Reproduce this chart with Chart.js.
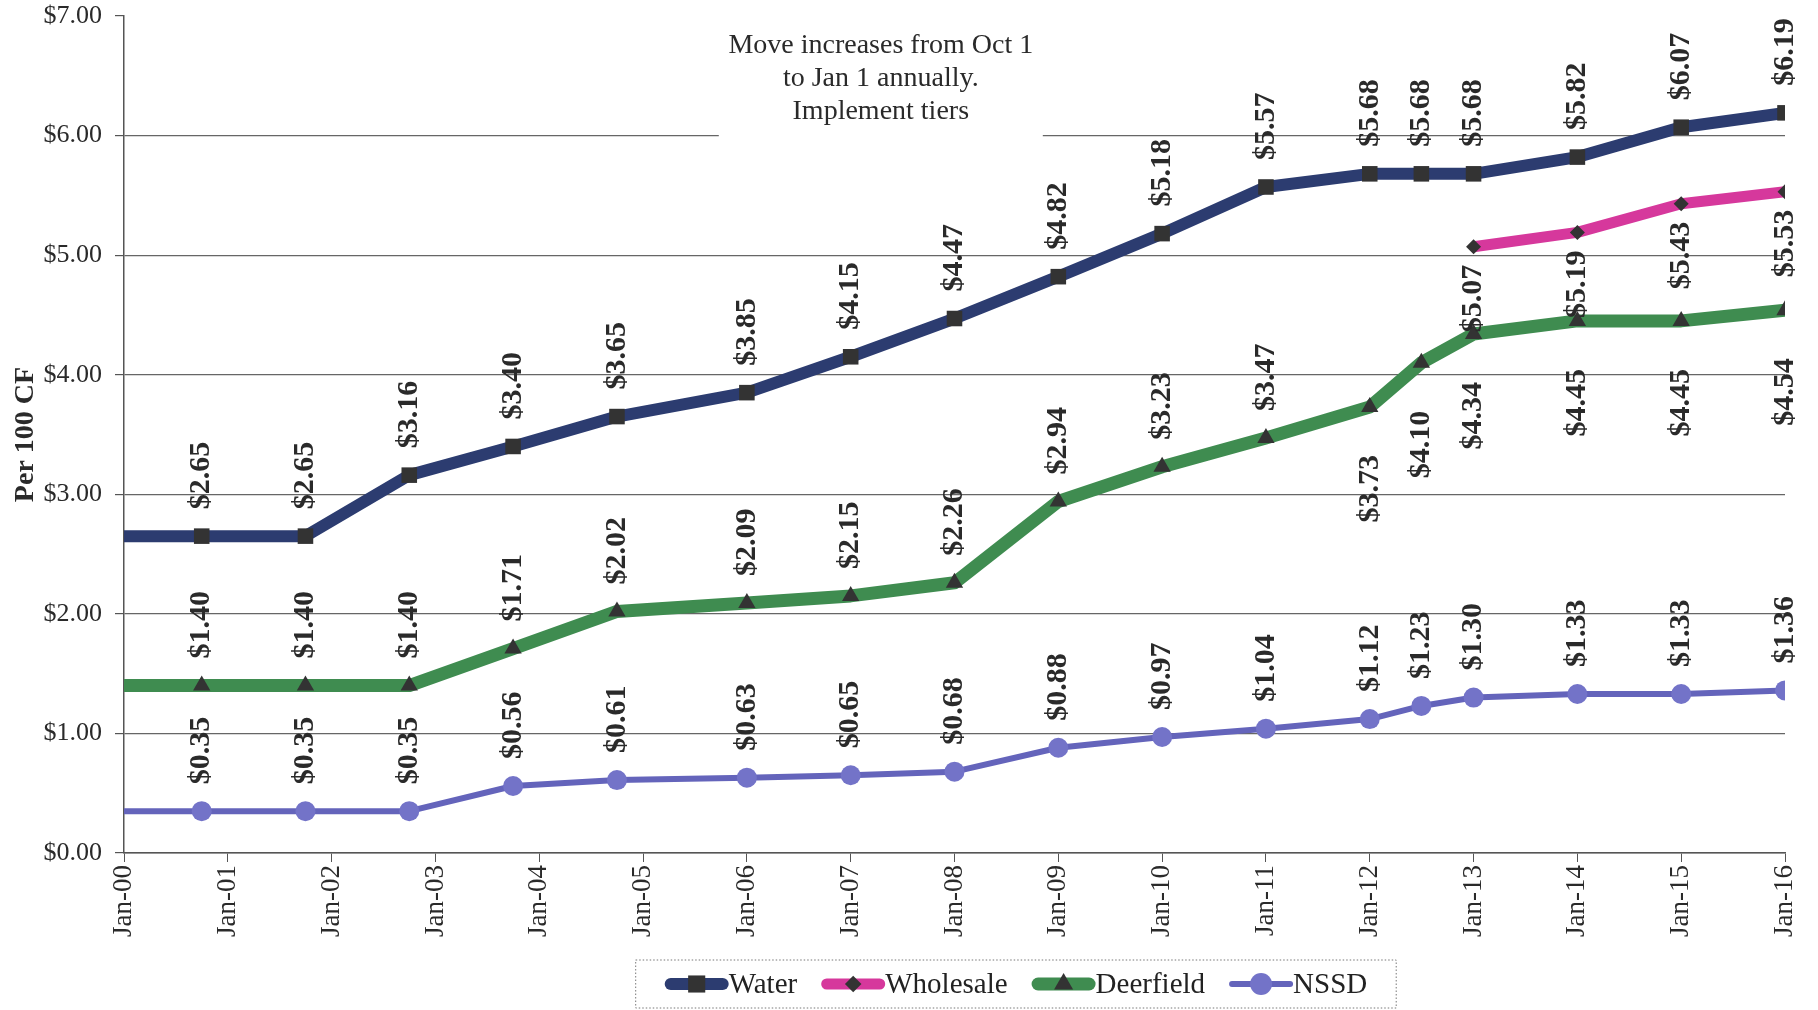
<!DOCTYPE html>
<html>
<head>
<meta charset="utf-8">
<script src="https://cdn.jsdelivr.net/npm/chart.js@4.4.1/dist/chart.umd.min.js"></script>
<style>
    html, body { margin: 0; padding: 0; background: #ffffff; }
    #wrap { width: 1818px; height: 1010px; position: relative; }
</style>
</head>
<body>
<div id="wrap"><canvas id="tarifas"></canvas></div>
<script>
// rate change dates (first entry is the axis start, no marker)
const rateDates = [
    '2000-01-01', '2000-10-01', '2001-10-01', '2002-10-01', '2003-10-01', '2004-10-01',
    '2006-01-01', '2007-01-01', '2008-01-01', '2009-01-01', '2010-01-01', '2011-01-01',
    '2012-01-01', '2012-07-01', '2013-01-01', '2014-01-01', '2015-01-01', '2016-01-01'
];
const waterRates      = [2.65, 2.65, 2.65, 3.16, 3.40, 3.65, 3.85, 4.15, 4.47, 4.82, 5.18, 5.57, 5.68, 5.68, 5.68, 5.82, 6.07, 6.19];
const wholesaleRates  = [5.07, 5.19, 5.43, 5.53];
const deerfieldRates  = [1.40, 1.40, 1.40, 1.40, 1.71, 2.02, 2.09, 2.15, 2.26, 2.94, 3.23, 3.47, 3.73, 4.10, 4.34, 4.45, 4.45, 4.54];
const nssdRates       = [0.35, 0.35, 0.35, 0.35, 0.56, 0.61, 0.63, 0.65, 0.68, 0.88, 0.97, 1.04, 1.12, 1.23, 1.30, 1.33, 1.33, 1.36];
const yTicks = [0, 1, 2, 3, 4, 5, 6, 7];
const noteLines = ['Move increases from Oct 1', 'to Jan 1 annually.', 'Implement tiers'];

const SERIF = "'Liberation Serif', 'DejaVu Serif', serif";
const X_MIN = 2000;
const X_MAX = 2016;

// date string -> decimal year, so Jan 1 lands exactly on the yearly ticks
function toYear(s) {
    const d = new Date(s + 'T00:00:00Z');
    const y = d.getUTCFullYear();
    const start = Date.UTC(y, 0, 1);
    const end = Date.UTC(y + 1, 0, 1);
    return y + (d.getTime() - start) / (end - start);
}

function toPoints(dates, values) {
    return values.map((v, i) => ({ x: toYear(dates[i]), y: v }));
}

const wholesaleDates = rateDates.slice(rateDates.length - wholesaleRates.length);

function markerRadius(r) {
    return c => (c.raw && c.raw.x === X_MIN) ? 0 : r;
}

function serie(label, data, color, width, style, radius, side) {
    return {
        label: label,
        data: data,
        borderColor: color,
        backgroundColor: color,
        borderWidth: width,
        borderJoinStyle: 'round',
        pointStyle: style,
        pointRadius: markerRadius(radius),
        pointBackgroundColor: style === 'circle' ? '#7373c8' : '#333333',
        pointBorderWidth: 0,
        markerSize: radius,
        labelSide: side,
        tension: 0
    };
}

const datasets = [
    serie('Water', toPoints(rateDates, waterRates), '#2c3c70', 12, 'rect', 11, () => 'above'),
    serie('Wholesale', toPoints(wholesaleDates, wholesaleRates), '#d6389c', 11, 'rectRot', 7.5, () => 'below'),
    serie('Deerfield', toPoints(rateDates, deerfieldRates), '#3f8c50', 13, 'triangle', 10, x => x >= 2012 ? 'below' : 'above'),
    serie('NSSD', toPoints(rateDates, nssdRates), '#6464bb', 6, 'circle', 10, () => 'above')
];

// vertical value labels over / under each marker
const valueLabels = {
    id: 'valueLabels',
    afterDatasetsDraw(chart) {
        const ctx = chart.ctx;
        ctx.save();
        ctx.font = 'bold 30px ' + SERIF;
        ctx.fillStyle = '#2a2a2a';
        ctx.textBaseline = 'middle';
        chart.data.datasets.forEach((ds, i) => {
            const meta = chart.getDatasetMeta(i);
            meta.data.forEach((pt, j) => {
                const raw = ds.data[j];
                if (!raw || raw.x === X_MIN) return;
                const text = '$' + raw.y.toFixed(2);
                const below = ds.labelSide(raw.x) === 'below';
                ctx.save();
                ctx.translate(pt.x, pt.y);
                ctx.rotate(-Math.PI / 2);
                if (below) {
                    ctx.textAlign = 'right';
                    ctx.fillText(text, i === 1 ? -18 : -48, 0);
                } else {
                    ctx.textAlign = 'left';
                    ctx.fillText(text, 27, 0);
                }
                ctx.restore();
            });
        });
        ctx.restore();
    }
};

// boxed note near the top, blanking the gridline behind it
const note = {
    id: 'note',
    beforeDatasetsDraw(chart) {
        const { ctx, chartArea, scales } = chart;
        const cx = scales.x.getPixelForValue(2007.29);
        const gy = scales.y.getPixelForValue(6);
        ctx.save();
        ctx.fillStyle = '#ffffff';
        ctx.fillRect(cx - 162, chartArea.top + 8, 324, gy - chartArea.top);
        ctx.font = '28px ' + SERIF;
        ctx.fillStyle = '#2a2a2a';
        ctx.textAlign = 'center';
        ctx.textBaseline = 'middle';
        noteLines.forEach((line, k) => {
            ctx.fillText(line, cx, chartArea.top + 30 + k * 33);
        });
        ctx.restore();
    }
};

// legend with line samples and markers inside a dotted box
const lineLegend = {
    id: 'lineLegend',
    afterDraw(chart) {
        const { ctx, chartArea } = chart;
        const sample = 64;
        const gap = 24;
        ctx.save();
        ctx.font = '29px ' + SERIF;
        const items = chart.data.datasets.map(ds => ({ ds: ds, w: ctx.measureText(ds.label).width }));
        const total = items.reduce((s, it) => s + sample + it.w, 0) + gap * (items.length - 1);
        const cx = chartArea.left + chartArea.width * 0.537;
        const boxW = total + 58;
        const boxTop = 960;
        const boxH = 48;
        const cy = boxTop + boxH / 2;

        ctx.strokeStyle = '#777777';
        ctx.lineWidth = 1;
        ctx.setLineDash([1.5, 2]);
        ctx.strokeRect(cx - boxW / 2, boxTop, boxW, boxH);
        ctx.setLineDash([]);

        let x = cx - total / 2;
        items.forEach(it => {
            const ds = it.ds;
            ctx.beginPath();
            ctx.lineCap = 'round';
            ctx.lineWidth = ds.borderWidth;
            ctx.strokeStyle = ds.borderColor;
            ctx.moveTo(x + ds.borderWidth / 2, cy);
            ctx.lineTo(x + sample - ds.borderWidth / 2, cy);
            ctx.stroke();
            ctx.fillStyle = ds.pointBackgroundColor;
            Chart.helpers.drawPoint(ctx, {
                pointStyle: ds.pointStyle,
                radius: ds.markerSize * 1.1,
                rotation: 0,
                borderWidth: 0
            }, x + sample / 2, cy);
            ctx.fillStyle = '#222222';
            ctx.textAlign = 'left';
            ctx.textBaseline = 'middle';
            ctx.fillText(ds.label, x + sample, cy + 1);
            x += sample + it.w + gap;
        });
        ctx.restore();
    }
};

new Chart(document.getElementById('tarifas'), {
    type: 'line',
    data: { datasets: datasets },
    options: {
        responsive: true,
        maintainAspectRatio: false,
        animation: false,
        events: [],
        layout: { padding: { left: 0, right: 33, top: 16, bottom: 60 } },
        plugins: {
            legend: { display: false },
            tooltip: { enabled: false }
        },
        scales: {
            x: {
                type: 'linear',
                min: X_MIN,
                max: X_MAX,
                afterBuildTicks(scale) {
                    scale.ticks = [];
                    for (let y = X_MIN; y <= X_MAX; y++) scale.ticks.push({ value: y });
                },
                afterFit(scale) {
                    scale.height = 97;
                    scale.paddingLeft = 0;
                    scale.paddingRight = 0;
                },
                ticks: {
                    autoSkip: false,
                    minRotation: 90,
                    maxRotation: 90,
                    padding: 3,
                    color: '#2a2a2a',
                    font: { family: SERIF, size: 27 },
                    callback: v => 'Jan-' + String(v % 100).padStart(2, '0')
                },
                grid: {
                    drawOnChartArea: false,
                    drawTicks: true,
                    tickLength: 9,
                    tickColor: '#555555',
                    color: '#555555'
                },
                border: { color: '#555555', width: 1.5 }
            },
            y: {
                min: 0,
                max: 7,
                afterBuildTicks(scale) {
                    scale.ticks = yTicks.map(v => ({ value: v }));
                },
                afterFit(scale) {
                    scale.width = 124;
                    scale.paddingTop = 0;
                    scale.paddingBottom = 0;
                },
                ticks: {
                    padding: 13,
                    color: '#2a2a2a',
                    font: { family: SERIF, size: 26 },
                    callback: v => '$' + Number(v).toFixed(2)
                },
                grid: {
                    color: c => (c.tick && c.tick.value === 7) ? 'rgba(0,0,0,0)' : '#666666',
                    lineWidth: 1.2,
                    tickLength: 9,
                    tickColor: '#555555'
                },
                border: { color: '#555555', width: 1.5 },
                title: {
                    display: true,
                    text: 'Per 100 CF',
                    color: '#2a2a2a',
                    font: { family: SERIF, size: 28, weight: 'bold' },
                    padding: { top: 9, bottom: 0 }
                }
            }
        }
    },
    plugins: [note, valueLabels, lineLegend]
});
</script>
</body>
</html>
